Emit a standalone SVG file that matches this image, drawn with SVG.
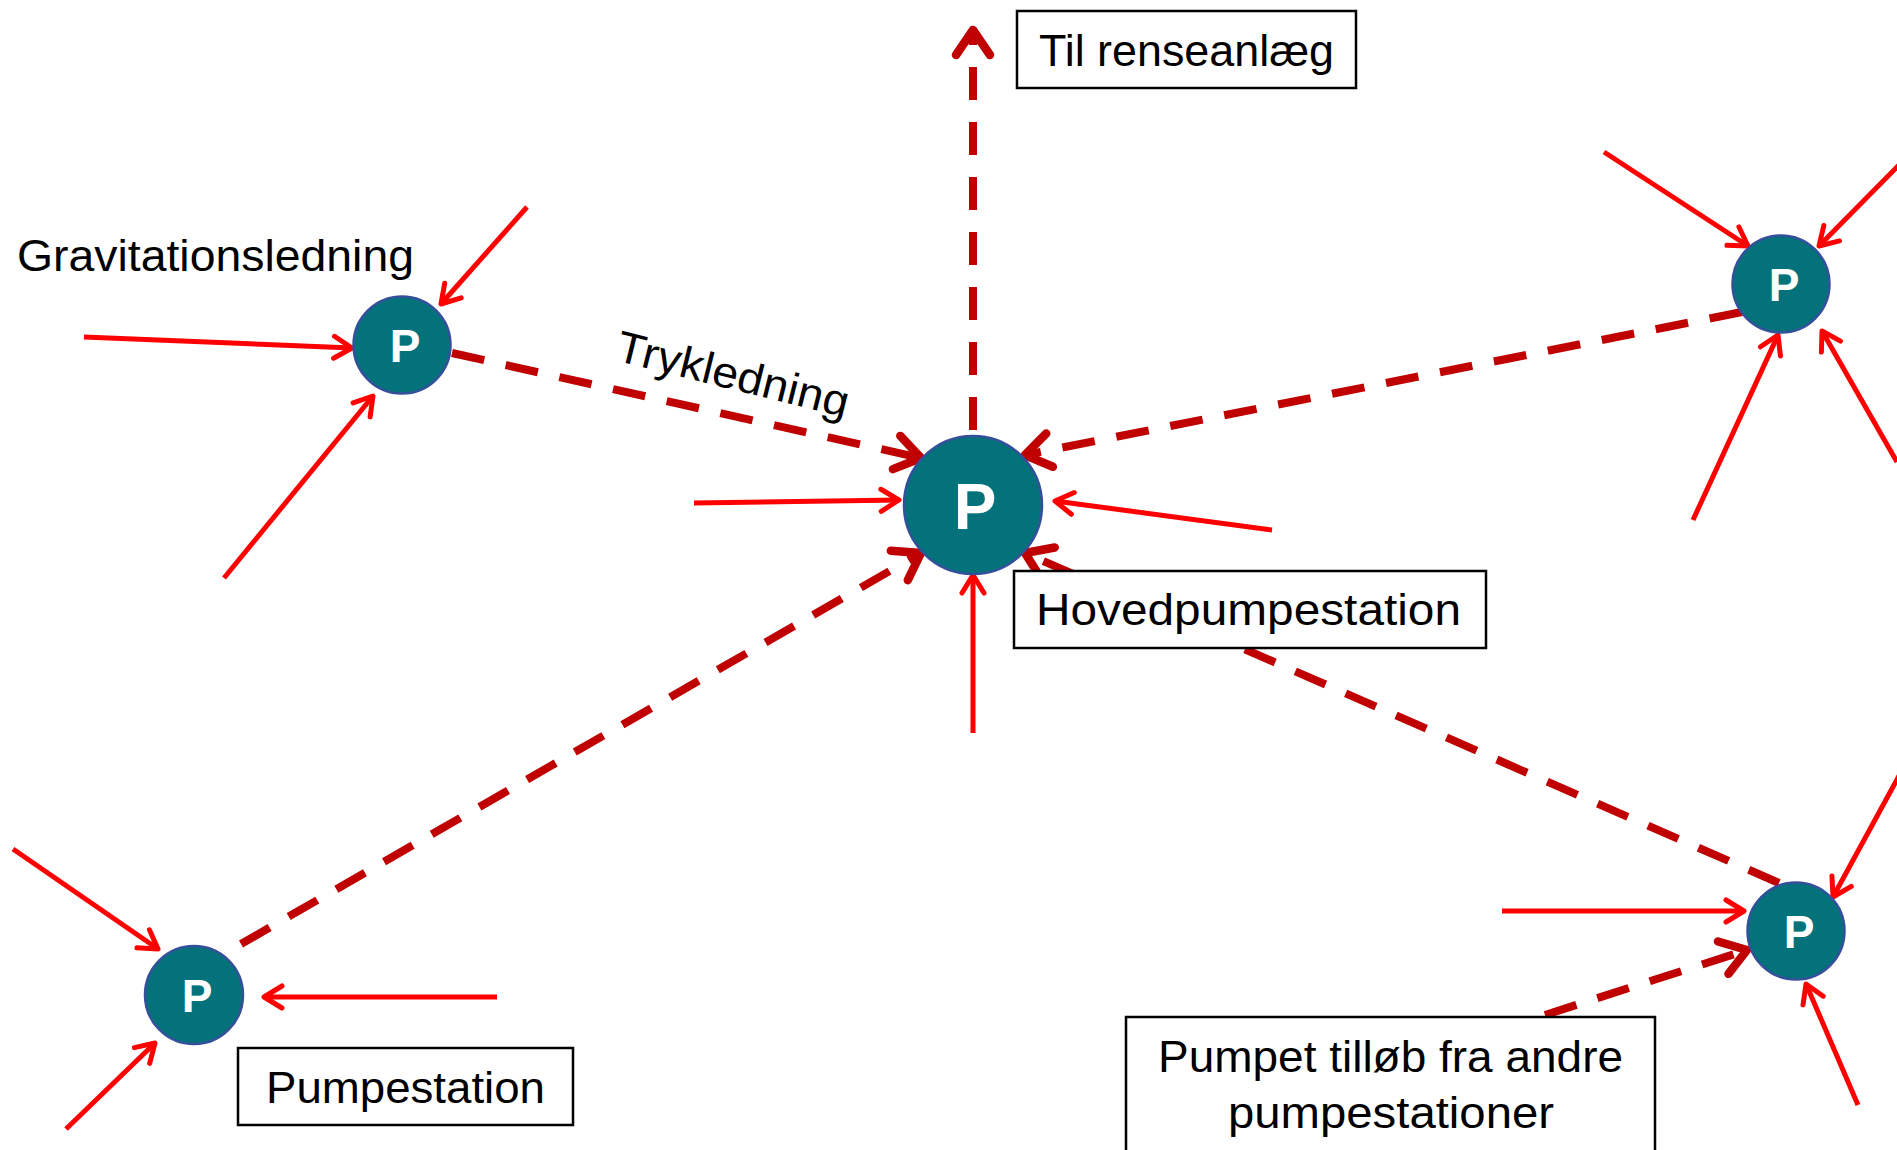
<svg xmlns="http://www.w3.org/2000/svg" width="1897" height="1150" viewBox="0 0 1897 1150">
  <style>
    .grav { fill: none; stroke: #ff0000; stroke-width: 5; stroke-linecap: butt; marker-end: url(#arrRed); }
    .tryk { fill: none; stroke: #c00000; stroke-width: 8; stroke-dasharray: 33 22; marker-end: url(#arrDark); }
    .node circle { fill: #04727a; stroke: #35509a; stroke-width: 2.5; }
    .node text { fill: #ffffff; font-family: "Liberation Sans", Arial, sans-serif; font-weight: bold; text-anchor: middle; }
    .lbl { font-family: "Liberation Sans", Arial, sans-serif; font-size: 44px; fill: #000000; }
    .box { fill: #ffffff; stroke: #000000; stroke-width: 2.5; }
  </style>
  <defs>
    <marker id="arrRed" markerUnits="userSpaceOnUse" viewBox="-24 -14 28 28" refX="0" refY="0" markerWidth="28" markerHeight="28" orient="auto">
      <path d="M -18 -11 L 0 0 L -18 11" fill="none" stroke="#ff0000" stroke-width="5" stroke-linecap="round" stroke-linejoin="round" stroke-dasharray="none"/>
    </marker>
    <marker id="arrDark" markerUnits="userSpaceOnUse" viewBox="-34 -22 40 44" refX="0" refY="0" markerWidth="40" markerHeight="44" orient="auto">
      <path d="M -25 -17 L 0 0 L -25 17" fill="none" stroke="#c00000" stroke-width="8.5" stroke-linecap="round" stroke-linejoin="round" stroke-dasharray="none"/>
    </marker>
  </defs>
  <rect x="0" y="0" width="1897" height="1150" fill="#ffffff"/>

  <g id="connectors">
    <!-- gravity lines into top-left station -->
    <path class="grav" d="M 84 337 L 352 348"/>
    <path class="grav" d="M 527 207 L 441 304"/>
    <path class="grav" d="M 224 578 L 373 396"/>
    <!-- gravity lines into main station -->
    <path class="grav" d="M 694 503 L 899 500"/>
    <path class="grav" d="M 1272 530 L 1055 501"/>
    <path class="grav" d="M 973 733 L 973 575"/>
    <!-- top-right station -->
    <path class="grav" d="M 1604 152 L 1748 246"/>
    <path class="grav" d="M 1900 164 L 1819 246"/>
    <path class="grav" d="M 1693 520 L 1778 335"/>
    <path class="grav" d="M 1897 462 L 1822 331"/>
    <!-- bottom-right station -->
    <path class="grav" d="M 1502 911 L 1744 911"/>
    <path class="grav" d="M 1900 774 L 1833 897"/>
    <path class="grav" d="M 1858 1105 L 1806 984"/>
    <!-- bottom-left station -->
    <path class="grav" d="M 497 997 L 264 997"/>
    <path class="grav" d="M 13 849 L 158 949"/>
    <path class="grav" d="M 66 1129 L 155 1043"/>

    <!-- pressure mains -->
    <path class="tryk" d="M 452 353 L 921 458"/>
    <path class="tryk" d="M 1742 312 L 1025 455"/>
    <path class="tryk" d="M 241 944 L 921 553"/>
    <path class="tryk" d="M 1779 883 L 1025 553"/>
    <path class="tryk" d="M 1545 1015 L 1747 950"/>
    <path class="tryk" d="M 973 430 L 973 30"/>
  </g>

  <g id="node-main" class="node">
    <circle cx="973" cy="505" r="69"/>
    <text x="975" y="529" font-size="64">P</text>
  </g>
  <g id="node-tl" class="node">
    <circle cx="402" cy="345" r="48.5"/>
    <text x="405" y="362" font-size="46">P</text>
  </g>
  <g id="node-tr" class="node">
    <circle cx="1781" cy="284" r="48.5"/>
    <text x="1784" y="301" font-size="46">P</text>
  </g>
  <g id="node-br" class="node">
    <circle cx="1796" cy="931" r="48.5"/>
    <text x="1799" y="948" font-size="46">P</text>
  </g>
  <g id="node-bl" class="node">
    <circle cx="194" cy="995" r="49"/>
    <text x="197" y="1012" font-size="46">P</text>
  </g>

  <g id="label-renseanlaeg">
    <rect class="box" x="1017" y="11" width="339" height="77"/>
    <text class="lbl" x="1039" y="66" textLength="295" lengthAdjust="spacingAndGlyphs">Til renseanlæg</text>
  </g>
  <g id="label-hoved">
    <rect class="box" x="1014" y="571" width="472" height="77"/>
    <text class="lbl" x="1036" y="625" textLength="425" lengthAdjust="spacingAndGlyphs">Hovedpumpestation</text>
  </g>
  <g id="label-pumpestation">
    <rect class="box" x="238" y="1048" width="335" height="77"/>
    <text class="lbl" x="266" y="1103" textLength="279" lengthAdjust="spacingAndGlyphs">Pumpestation</text>
  </g>
  <g id="label-pumpet">
    <rect class="box" x="1126" y="1017" width="529" height="150"/>
    <text class="lbl" x="1158" y="1072" textLength="465" lengthAdjust="spacingAndGlyphs">Pumpet tilløb fra andre</text>
    <text class="lbl" x="1228" y="1128" textLength="326" lengthAdjust="spacingAndGlyphs">pumpestationer</text>
  </g>
  <g id="label-grav">
    <text class="lbl" x="17" y="271" textLength="397" lengthAdjust="spacingAndGlyphs">Gravitationsledning</text>
  </g>
  <g id="label-tryk">
    <text class="lbl" x="0" y="0" transform="translate(614,360) rotate(14)" textLength="238" lengthAdjust="spacingAndGlyphs">Trykledning</text>
  </g>
</svg>
